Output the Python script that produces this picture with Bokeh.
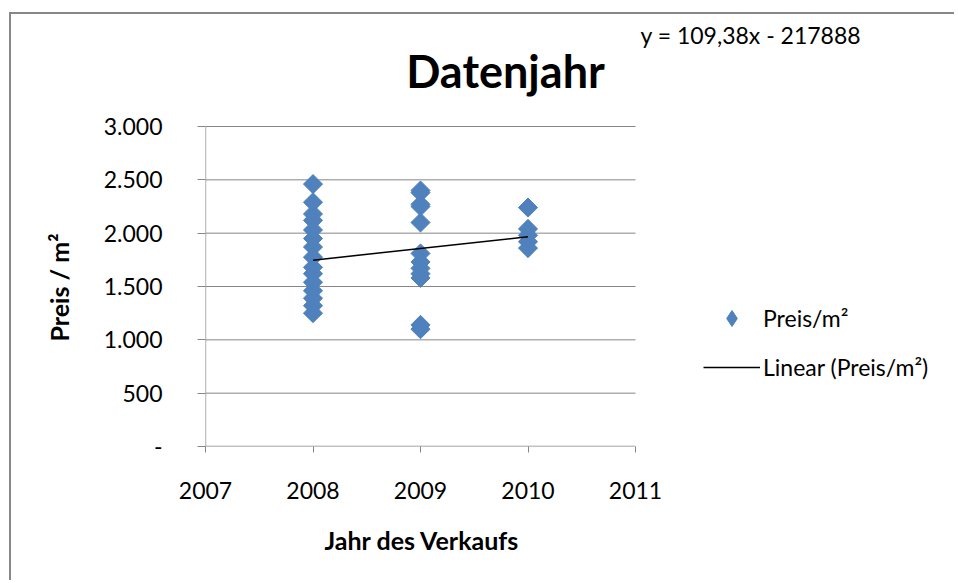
from bokeh.plotting import figure
from bokeh.models import FixedTicker, Legend, LegendItem, Label, Title, ColumnDataSource
from bokeh.embed import file_html
from bokeh.resources import INLINE
import numpy as np

# ---- data ----
preis_2008 = [2460, 2290, 2180, 2120, 2030, 1950, 1870, 1775, 1680, 1620, 1540, 1460, 1390, 1320, 1250]
preis_2009 = [2400, 2380, 2270, 2250, 2100, 1810, 1730, 1670, 1620, 1580, 1140, 1100]
preis_2010 = [2240, 2040, 1980, 1920, 1860]
years = [2008, 2009, 2010]
trend_slope = 109.38
trend_intercept = -217888
equation_text = "y = 109,38x - 217888"
x_ticks = [2007, 2008, 2009, 2010, 2011]
y_ticks = [0, 500, 1000, 1500, 2000, 2500, 3000]
y_tick_labels = ["-", "500", "1.000", "1.500", "2.000", "2.500", "3.000"]

jahr = [years[0]] * len(preis_2008) + [years[1]] * len(preis_2009) + [years[2]] * len(preis_2010)
preis = preis_2008 + preis_2009 + preis_2010
src = ColumnDataSource(dict(jahr=jahr, preis=preis))

trend_x = [years[0], years[-1]]
trend_y = [trend_slope * x + trend_intercept for x in trend_x]

FONT = "Lato"
GRAY = "#868686"
BLUE = "#4F81BD"

# ---- layout (canvas pixels) ----
W, H = 945, 568
ML, MT, MR, MB = 194, 6, 1, 136
AXIS_W = 430          # pixel width of the 2007..2011 axis
AXIS_H = 320          # pixel height of the 0..3000 axis
frame_w = W - ML - MR
frame_h = H - MT - MB
x0, x1 = x_ticks[0], x_ticks[-1]
y0, y1 = y_ticks[0], y_ticks[-1]
x_end = x0 + frame_w * (x1 - x0) / AXIS_W
y_end = y0 + frame_h * (y1 - y0) / AXIS_H

p = figure(width=W, height=H, output_backend="svg", toolbar_location=None,
           x_range=(x0, x_end), y_range=(y0, y_end),
           min_border_left=ML, min_border_top=MT, min_border_right=MR, min_border_bottom=MB)
p.styles = {"margin-left": "11px", "margin-top": "14px",
            "box-shadow": "-2px -2px 0px 0px #878787"}
p.outline_line_color = None
p.background_fill_color = "white"
p.border_fill_color = "white"
p.grid.grid_line_color = None

p.xaxis.ticker = FixedTicker(ticks=x_ticks)
p.yaxis.ticker = FixedTicker(ticks=y_ticks)
p.yaxis.major_label_overrides = {t: l for t, l in zip(y_ticks, y_tick_labels)}

for ax in (p.xaxis, p.yaxis):
    ax.axis_line_color = None
    ax.major_tick_line_color = GRAY
    ax.minor_tick_line_color = None
    ax.major_tick_in = 0
    ax.major_label_text_font = FONT
    ax.major_label_text_font_size = "23px"
    ax.major_label_text_color = "black"

p.xaxis.major_tick_out = 6
p.yaxis.major_tick_out = 8
p.xaxis.major_label_standoff = 29
p.yaxis.major_label_standoff = 35

# axis titles centred on the 2007..2011 / 0..3000 area
xlab = Title(text="Jahr des Verkaufs", align="left", offset=119, vertical_align="top",
             standoff=46, text_font=FONT, text_font_size="25px", text_font_style="bold",
             text_color="black")
ylab = Title(text="Preis / m²", align="left", offset=105, vertical_align="bottom",
             standoff=54, text_font=FONT, text_font_size="25px", text_font_style="bold",
             text_color="black")
p.add_layout(xlab, "below")
p.add_layout(ylab, "left")

# horizontal gridlines and axis lines limited to the data area
p.segment(x0=[x0] * (len(y_ticks) - 1), x1=[x1] * (len(y_ticks) - 1),
          y0=y_ticks[1:], y1=y_ticks[1:], line_color=GRAY, line_width=1)
p.segment(x0=[x0], x1=[x1], y0=[y0], y1=[y0], line_color=GRAY, line_width=1.3)
p.segment(x0=[x0], x1=[x0], y0=[y0], y1=[y1], line_color=GRAY, line_width=1.3)

# diamond key drawn underneath the (rotated-square) markers; used for the legend swatch
key = p.scatter("jahr", "preis", source=src, marker="diamond", size=13,
                fill_color=BLUE, line_color=BLUE)
sc = p.scatter("jahr", "preis", source=src, marker="square", angle=np.pi / 4, size=13.5,
               fill_color=BLUE, line_color=BLUE)
ln = p.line(trend_x, trend_y, line_color="black", line_width=1.5)

legend = Legend(items=[LegendItem(label="Preis/m²", renderers=[key]),
                       LegendItem(label="Linear (Preis/m²)", renderers=[ln])],
                location=(498, 59), padding=0, margin=0, spacing=9,
                glyph_width=57, glyph_height=40, label_height=40, label_standoff=3,
                label_text_font=FONT, label_text_font_size="23px", label_text_color="black",
                border_line_color=None, background_fill_alpha=0)
p.add_layout(legend)

title = Label(x=300, y=376, x_units="screen", y_units="screen", text="Datenjahr",
              text_font=FONT, text_font_style="bold", text_font_size="45px",
              text_color="black", text_align="center", text_baseline="alphabetic")
eq = Label(x=435, y=412, x_units="screen", y_units="screen", text=equation_text,
           text_font=FONT, text_font_size="23px", text_color="black",
           text_align="left", text_baseline="alphabetic")
p.add_layout(title)
p.add_layout(eq)

open("out.html", "w").write(file_html(p, INLINE))
